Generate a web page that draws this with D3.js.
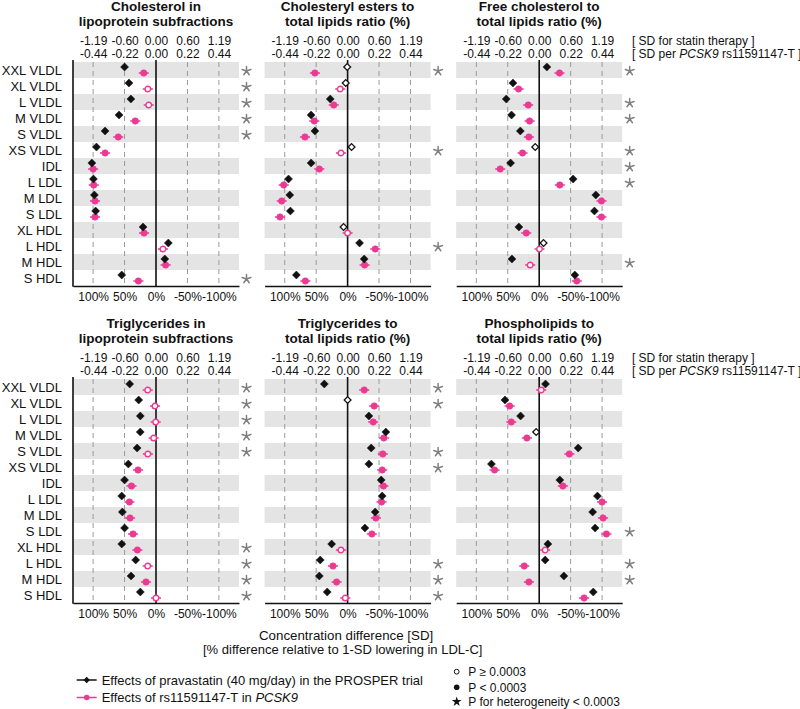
<!DOCTYPE html>
<html><head><meta charset="utf-8">
<script src="https://cdn.jsdelivr.net/npm/d3@7"></script>
<style>
body{margin:0;background:#fff}
svg{display:block}
text{font-family:"Liberation Sans",Arial,Helvetica,sans-serif;fill:#111}
</style>
</head><body>
<svg id="c" width="800" height="709"></svg>
<script>
// ---------- data ----------
const lipoproteins = ["XXL VLDL","XL VLDL","L VLDL","M VLDL","S VLDL","XS VLDL","IDL","L LDL","M LDL","S LDL","XL HDL","L HDL","M HDL","S HDL"];
const panelTitles = [
  ["Cholesterol in","lipoprotein subfractions"],
  ["Cholesteryl esters to","total lipids ratio (%)"],
  ["Free cholesterol to","total lipids ratio (%)"],
  ["Triglycerides in","lipoprotein subfractions"],
  ["Triglycerides to","total lipids ratio (%)"],
  ["Phospholipids to","total lipids ratio (%)"]
];
const pctTicks = [100, 50, 0, -50, -100];
const statinSDLabels = ["-1.19","-0.60","0.00","0.60","1.19"];
const pcsk9SDLabels = ["-0.44","-0.22","0.00","0.22","0.44"];
const pcsk9CI = 8; // approx. half-width of PCSK9 confidence interval (% units)

// values: % difference relative to 1-SD lowering in LDL-C
const cholStatin = [50,43,40,58.7,81,94.7,102,99.5,98,96,20.6,-19.6,-14,54.5];
const cholPcsk9  = [19.5,13,11.6,33,60,81,100,99,97,97,19,-11,-15.3,28];
const cholStatinNS = [];
const cholPcsk9NS  = [1,2,11];
const cholHet = [0,1,2,3,4,13];

const ceStatin = [0.6,3,27.6,58,52,-6.3,58,94,92,91,6.4,-19,-26.4,81.5];
const cePcsk9  = [52,11.7,22,53,67.8,10.6,45,101.6,104.8,107.5,0,-43.9,-27,67.2];
const ceStatinNS = [0,1,5,10];
const cePcsk9NS  = [1,5,10];
const ceHet = [0,5,11];

const fcStatin = [-12.2,41.8,52.4,44,30,6.3,45.5,-54,-90,-87.8,32.3,-6.9,43.4,-56.6];
const fcPcsk9  = [-32.3,32.8,17.5,15.3,16.4,26.5,62,-32.8,-99,-99,20.6,-0.5,14.3,-59.8];
const fcStatinNS = [5,11];
const fcPcsk9NS  = [11,12];
const fcHet = [0,2,3,5,6,7,12];

const tgStatin = [41.8,27.5,24.9,25,30,44,50,54.5,53.5,50,54.5,32.3,39.7,24.9];
const tgPcsk9  = [13.2,1.6,0.5,3.7,13,28.6,39,42.3,41.3,36.5,29.6,13.2,15.9,0];
const tgStatinNS = [];
const tgPcsk9NS  = [0,1,2,3,4,11,13];
const tgHet = [0,1,2,3,4,10,11,12,13];

const tgRatioStatin = [37,0,-33.8,-60.8,-37.5,-33.8,-53.4,-55,-43.9,-27.5,25.4,43.5,45,32.4];
const tgRatioPcsk9  = [-26.4,-42.3,-40.7,-57.6,-56,-55,-57,-54,-45,-38.6,10.6,23.3,17.5,3.7];
const tgRatioStatinNS = [1];
const tgRatioPcsk9NS  = [10,13];
const tgRatioHet = [0,1,4,5,11,12,13];

const plStatin = [-10,54.5,29.6,4.8,-62,76,-32.8,-92.6,-85,-88.9,-13.8,-9.5,-39.2,-86];
const plPcsk9  = [-3.2,47,44.4,19.6,-48,71,-37.6,-100,-101.6,-106.9,-9.5,23.8,16.4,-71.4];
const plStatinNS = [3];
const plPcsk9NS  = [0,10];
const plHet = [9,11,12];

const panels = [
  {statin:cholStatin, pcsk9:cholPcsk9, sNS:cholStatinNS, pNS:cholPcsk9NS, het:cholHet},
  {statin:ceStatin, pcsk9:cePcsk9, sNS:ceStatinNS, pNS:cePcsk9NS, het:ceHet},
  {statin:fcStatin, pcsk9:fcPcsk9, sNS:fcStatinNS, pNS:fcPcsk9NS, het:fcHet},
  {statin:tgStatin, pcsk9:tgPcsk9, sNS:tgStatinNS, pNS:tgPcsk9NS, het:tgHet},
  {statin:tgRatioStatin, pcsk9:tgRatioPcsk9, sNS:tgRatioStatinNS, pNS:tgRatioPcsk9NS, het:tgRatioHet},
  {statin:plStatin, pcsk9:plPcsk9, sNS:plStatinNS, pNS:plPcsk9NS, het:plHet}
];

// ---------- drawing ----------
const PINK = "#ec3a93", BLACK = "#111", GRID = "#9a9a9a", BAND = "#e4e4e4", STAR = "#808080";
const svg = d3.select("#c");
const panelW = 166, plotH = 224, colStep = 191.6;
const diamond = s => `M0,${-s}L${s},0L0,${s}L${-s},0Z`;
// five-armed asterisk like the typographic "*"
const asterisk = r => d3.range(5).map(j => {
  const a = -Math.PI/2 + j * 2*Math.PI/5;
  return `M0,0L${(r*Math.cos(a)).toFixed(2)},${(r*Math.sin(a)).toFixed(2)}`;
}).join("");

panels.forEach((p, k) => {
  const col = k % 3, row = Math.floor(k / 3);
  const left = 73 + col * colStep;
  const top = row === 0 ? 62 : 379;
  const g = svg.append("g");
  const x = d3.scaleLinear().domain([132, -132]).range([left, left + panelW]);
  const y = d3.scaleBand().domain(lipoproteins).range([top, top + plotH]);
  const cx = x(0);

  // title
  g.append("text").attr("x", cx).attr("y", top - 51).attr("text-anchor","middle")
    .style("font-size","13.5px").style("font-weight","bold").text(panelTitles[k][0]);
  g.append("text").attr("x", cx).attr("y", top - 36.5).attr("text-anchor","middle")
    .style("font-size","13.5px").style("font-weight","bold").text(panelTitles[k][1]);

  // bands
  g.selectAll("rect.band").data(lipoproteins.filter((d,i)=>i%2===0)).join("rect")
    .attr("x", left).attr("y", d => y(d)).attr("width", panelW).attr("height", y.bandwidth())
    .attr("fill", BAND);

  // grid
  g.selectAll("line.grid").data(pctTicks.filter(d=>d!==0)).join("line")
    .attr("x1", d=>x(d)).attr("x2", d=>x(d)).attr("y1", top).attr("y2", top+plotH)
    .attr("stroke", GRID).attr("stroke-width",1).attr("stroke-dasharray","5,4");

  // top axes (SD)
  const ax1 = d3.axisTop(x).tickValues(pctTicks).tickSize(0).tickPadding(0)
    .tickFormat((d,i)=>statinSDLabels[i]);
  const ax2 = d3.axisTop(x).tickValues(pctTicks).tickSize(0).tickPadding(0)
    .tickFormat((d,i)=>pcsk9SDLabels[i]);
  [[ax1, top-17], [ax2, top-4.5]].forEach(([ax, yy]) => {
    const a = g.append("g").attr("transform", `translate(0,${yy})`).call(ax);
    a.select(".domain").remove();
    a.selectAll("text").style("font-size","12px")
      .style("font-family",'"Liberation Sans",Arial,sans-serif');
  });

  // bottom axis
  const bx = d3.axisBottom(x).tickValues(pctTicks).tickSize(0).tickSizeOuter(0).tickPadding(6.5)
    .tickFormat(d => d + "%");
  const b = g.append("g").attr("transform", `translate(0,${top+plotH})`).call(bx);
  b.select(".domain").attr("stroke", BLACK).attr("stroke-width", 1.6);
  b.selectAll("text").style("font-size","12px")
    .style("font-family",'"Liberation Sans",Arial,sans-serif');

  // zero line & left axis
  g.append("line").attr("x1", cx).attr("x2", cx).attr("y1", top-2).attr("y2", top+plotH)
    .attr("stroke", BLACK).attr("stroke-width", 1.6);
  if (col === 0) {
    g.append("line").attr("x1", left).attr("x2", left).attr("y1", top-2).attr("y2", top+plotH+0.8)
      .attr("stroke", BLACK).attr("stroke-width", 1.6);
    g.selectAll("text.lab").data(lipoproteins).join("text")
      .attr("x", left - 11).attr("y", d => y(d) + y.bandwidth()/2 + 4.6)
      .attr("text-anchor","end").style("font-size","13px").text(d => d);
  }

  // heterogeneity asterisks
  g.selectAll("path.het").data(p.het).join("path")
    .attr("transform", i => `translate(${left + panelW + 7.5},${y(lipoproteins[i]) + y.bandwidth()/2 + 1})`)
    .attr("d", asterisk(4.6)).attr("fill","none").attr("stroke", STAR).attr("stroke-width", 1.5)
    .attr("stroke-linecap","round");

  // PCSK9 points
  const pts = p.pcsk9.map((v,i)=>({v, i, open: p.pNS.includes(i)}));
  const pg = g.selectAll("g.pk").data(pts).join("g")
    .attr("transform", d => `translate(0,${y(lipoproteins[d.i]) + y.bandwidth()/2 + 3})`);
  pg.append("line").attr("x1", d=>x(d.v + pcsk9CI)).attr("x2", d=>x(d.v - pcsk9CI))
    .attr("stroke", PINK).attr("stroke-width", 1.5);
  pg.append("circle").attr("cx", d=>x(d.v)).attr("r", d=>d.open?2.8:3.2)
    .attr("fill", d=>d.open?"#fff":PINK).attr("stroke", PINK).attr("stroke-width", d=>d.open?1.4:0.6);

  // statin points
  const sts = p.statin.map((v,i)=>({v, i, open: p.sNS.includes(i)}));
  g.selectAll("path.st").data(sts).join("path")
    .attr("transform", d => `translate(${x(d.v)},${y(lipoproteins[d.i]) + y.bandwidth()/2 - 3})`)
    .attr("d", d => diamond(d.open?3.4:4))
    .attr("fill", d=>d.open?"#fff":BLACK).attr("stroke", BLACK).attr("stroke-width", d=>d.open?1.3:0.5);

  // right hand SD labels
  if (col === 2) {
    const rx = left + 175.7;
    g.append("text").attr("x", rx).attr("y", top-17).style("font-size","12px").text("[ SD for statin therapy ]");
    const t = g.append("text").attr("x", rx).attr("y", top-4.5).style("font-size","12px");
    t.append("tspan").text("[ SD per ");
    t.append("tspan").style("font-style","italic").text("PCSK9");
    t.append("tspan").text(" rs11591147-T ]");
  }
});

// x-axis title
svg.append("text").attr("x", 259).attr("y", 639.5).style("font-size","13.3px").text("Concentration difference [SD]");
svg.append("text").attr("x", 203).attr("y", 654).style("font-size","13px").text("[% difference relative to 1-SD lowering in LDL-C]");

// legend (series)
const lg = svg.append("g");
const legendItems = [
  {y:680, color:BLACK, kind:"diamond", parts:[["Effects of pravastatin (40 mg/day) in the PROSPER trial", false]]},
  {y:697.5, color:PINK, kind:"circle", parts:[["Effects of rs11591147-T in ", false],["PCSK9", true]]}
];
legendItems.forEach(it => {
  lg.append("line").attr("x1", 76.7).attr("x2", 96.7).attr("y1", it.y).attr("y2", it.y)
    .attr("stroke", it.color).attr("stroke-width", 1.5);
  if (it.kind === "diamond")
    lg.append("path").attr("transform", `translate(86.7,${it.y})`).attr("d", diamond(3.2)).attr("fill", it.color);
  else
    lg.append("circle").attr("cx", 86.7).attr("cy", it.y).attr("r", 2.8).attr("fill", it.color);
  const t = lg.append("text").attr("x", 101.7).attr("y", it.y + 4.6).style("font-size","13px");
  it.parts.forEach(([s, ital]) => t.append("tspan").style("font-style", ital?"italic":"normal").text(s));
});

// legend (significance)
const sg = svg.append("g");
sg.append("circle").attr("cx", 456.7).attr("cy", 671.7).attr("r", 2.4).attr("fill","#fff").attr("stroke",BLACK).attr("stroke-width",1);
sg.append("text").attr("x", 468.3).attr("y", 676).style("font-size","12px").text("P ≥ 0.0003");
sg.append("circle").attr("cx", 456.7).attr("cy", 687.3).attr("r", 2.8).attr("fill",BLACK);
sg.append("text").attr("x", 468.3).attr("y", 691.5).style("font-size","12px").text("P < 0.0003");
sg.append("path").attr("transform","translate(456.7,701.7)").attr("d", d3.symbol(d3.symbolStar, 30)()).attr("fill",BLACK);
sg.append("text").attr("x", 468.3).attr("y", 706).style("font-size","12px").text("P for heterogeneity < 0.0003");
</script>
</body></html>
